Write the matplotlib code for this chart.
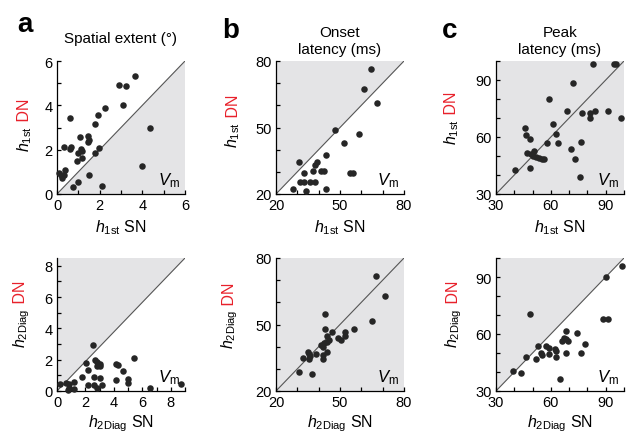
import matplotlib
matplotlib.use("Agg")
import matplotlib.pyplot as plt
import numpy as np

plt.rcParams["font.family"] = ["Liberation Sans", "DejaVu Sans"]
plt.rcParams["mathtext.fontset"] = "custom"
plt.rcParams["mathtext.rm"] = "Liberation Sans"
plt.rcParams["mathtext.it"] = "Liberation Sans:italic"

RED = "#e8202a"
FILL = "#e4e4e6"
DOT = "#262626"

# --- data: (SN, DN) pairs ---
a1_sn = [3.66, 2.92, 3.22, 3.09, 2.27, 1.94, 1.78, 0.59, 1.06, 1.47, 1.48, 1.45, 1.14,
         1.19, 0.66, 0.62, 0.33, 1.00, 1.17, 0.92, 1.97, 1.77, 0.39, 0.08, 0.19, 0.31,
         0.23, 1.52, 0.98, 0.73, 2.09, 3.97, 4.34]
a1_dn = [5.31, 4.90, 4.85, 4.01, 3.89, 3.58, 3.14, 3.45, 2.59, 2.60, 2.45, 2.33, 2.04,
         1.96, 2.11, 2.02, 2.14, 1.84, 1.64, 1.50, 2.07, 1.84, 1.10, 0.95, 0.84, 0.84,
         0.73, 0.87, 0.54, 0.31, 0.38, 1.27, 2.99]

b1_sn = [64.5, 61.1, 67.4, 47.5, 59.0, 51.7, 43.6, 30.9, 39.1, 38.5, 37.3, 32.9, 41.3,
         42.7, 54.8, 55.9, 31.4, 33.2, 36.0, 38.4, 27.8, 34.0, 43.5]
b1_dn = [76.4, 67.5, 61.2, 49.0, 46.9, 42.8, 37.8, 34.6, 34.6, 33.0, 30.4, 29.6, 30.4,
         30.4, 29.6, 29.6, 25.5, 25.5, 25.5, 25.5, 22.2, 21.2, 22.2]

c1_sn = [83.0, 94.6, 95.5, 72.1, 58.9, 69.1, 77.2, 81.2, 84.2, 91.3, 81.4, 98.5, 60.9,
         45.6, 46.6, 48.4, 62.9, 63.8, 57.7, 76.3, 71.0, 47.2, 49.3, 50.8, 50.3, 51.7,
         53.5, 55.3, 56.0, 73.0, 48.8, 40.3, 76.1]
c1_dn = [98.5, 98.5, 98.5, 88.3, 80.2, 73.8, 72.8, 72.8, 73.8, 73.8, 69.9, 69.9, 66.8,
         64.9, 60.8, 58.7, 61.7, 56.8, 56.8, 57.6, 53.6, 51.7, 51.1, 52.4, 50.2, 49.7,
         49.2, 48.5, 48.5, 48.5, 43.6, 42.5, 39.2]

a2_sn = [2.54, 5.38, 2.03, 2.68, 2.80, 3.03, 3.03, 2.80, 2.17, 4.17, 4.31, 4.64, 1.79,
         2.63, 3.03, 4.96, 4.96, 4.17, 1.19, 0.19, 0.61, 0.84, 2.17, 2.63, 3.17, 0.84,
         1.19, 0.77, 2.80, 6.53, 8.72]
a2_dn = [2.97, 2.10, 1.78, 2.00, 1.85, 1.74, 1.61, 1.61, 1.32, 1.74, 1.63, 1.30, 0.89,
         0.89, 0.85, 0.79, 0.53, 0.68, 0.57, 0.42, 0.51, 0.42, 0.36, 0.36, 0.36, 0.19,
         0.15, 0.06, 0.19, 0.21, 0.42]

b2_sn = [66.8, 71.0, 43.0, 64.8, 43.0, 46.1, 56.5, 52.3, 52.3, 49.2, 50.5, 44.1, 45.0,
         43.8, 42.7, 41.2, 41.8, 43.8, 42.0, 38.8, 34.8, 35.7, 36.0, 35.7, 32.6, 42.1,
         30.6, 36.8]
b2_dn = [71.9, 62.8, 54.7, 51.8, 47.8, 46.5, 47.8, 46.5, 44.7, 43.8, 42.8, 44.9, 43.1,
         42.1, 41.5, 40.7, 39.9, 37.6, 36.2, 36.9, 37.6, 36.9, 35.7, 34.6, 34.7, 34.6,
         28.5, 27.5]

c2_sn = [98.8, 89.9, 88.6, 91.0, 48.8, 68.1, 74.3, 78.4, 67.4, 68.5, 65.9, 69.2, 57.2,
         59.2, 62.1, 52.8, 63.0, 54.5, 55.0, 59.2, 68.1, 76.4, 63.0, 46.6, 51.7, 39.5,
         43.5, 65.0]
c2_dn = [95.9, 90.0, 67.9, 67.9, 70.7, 61.6, 60.6, 54.7, 58.0, 57.4, 56.2, 56.2, 53.6,
         52.6, 51.9, 53.6, 51.0, 50.1, 49.2, 49.6, 49.8, 49.8, 47.7, 47.8, 46.8, 40.5,
         39.6, 36.5]

titles = ["Spatial extent (°)", "Onset\nlatency (ms)", "Peak\nlatency (ms)"]
letters = ["a", "b", "c"]

fig = plt.figure(figsize=(6.29, 4.39), dpi=100)
W, H = 128 / 629, 133 / 439
lefts = [57 / 629, 276 / 629, 496 / 629]
bottoms = [1 - 195 / 439, 1 - 392 / 439]

panels = [
    # row, col, x, y, lims (x0, x1, y0, y1), step, labels, fill, sub, label x, junction
    (0, 0, a1_sn, a1_dn, (0, 6, 0, 6), 1, [0, 2, 4, 6], [0, 2, 4, 6], "below", "1st", -0.215, 0.52),
    (0, 1, b1_sn, b1_dn, (20, 80, 20, 80), 10, [20, 50, 80], [20, 50, 80], "above", "1st", -0.30, 0.55),
    (0, 2, c1_sn, c1_dn, (30, 100, 30, 100), 10, [30, 60, 90], [30, 60, 90], "all", "1st", -0.31, 0.57),
    (1, 0, a2_sn, a2_dn, (0, 9, 0, 8.5), 1, [0, 2, 4, 6, 8], [0, 2, 4, 6, 8], "above", "2Diag", -0.25, 0.63),
    (1, 1, b2_sn, b2_dn, (20, 80, 20, 80), 10, [20, 50, 80], [20, 50, 80], "all", "2Diag", -0.33, 0.62),
    (1, 2, c2_sn, c2_dn, (30, 100, 30, 100), 10, [30, 60, 90], [30, 60, 90], "above", "2Diag", -0.30, 0.63),
]

for row, col, xs, ys, lims, step, xl, yl, fill, sub, lx, junc in panels:
    ax = fig.add_axes([lefts[col], bottoms[row], W, H])
    x0, x1, y0, y1 = lims
    ax.set_xlim(x0, x1)
    ax.set_ylim(y0, y1)
    ax.set_facecolor("white")

    # shaded region and unity line
    if fill == "all":
        ax.set_facecolor(FILL)
    elif fill == "above":
        ax.fill([x0, x0, x1], [y0, y1, y1], color=FILL, lw=0, zorder=0)
    else:
        ax.fill([x0, x1, x1], [y0, y0, y1], color=FILL, lw=0, zorder=0)
    ax.plot([x0, x1], [y0, y1], color="#555555", lw=0.8, zorder=1)

    ax.scatter(xs, ys, s=22, color=DOT, lw=0, zorder=3, clip_on=False)

    for s in ["top", "right"]:
        ax.spines[s].set_visible(False)
    for s in ["left", "bottom"]:
        ax.spines[s].set_linewidth(0.9)

    ax.set_xticks(np.arange(x0, x1 + 0.01, step), minor=True)
    ax.set_yticks(np.arange(y0, y1 + 0.01, step), minor=True)
    ax.set_xticks(xl)
    ax.set_yticks(yl)
    ax.tick_params(which="both", direction="in", length=3, width=0.9,
                   labelsize=10.5, pad=3)

    ax.set_xlabel(r"$h_{\rm %s}$ SN" % sub, fontsize=11.5,
                  labelpad=4 if row == 0 else 2)
    ax.text(lx, junc, r"$h_{\rm %s}$" % sub, rotation=90, rotation_mode="anchor",
            ha="right", va="baseline", fontsize=11.5, transform=ax.transAxes)
    ax.text(lx, junc, " DN", rotation=90, rotation_mode="anchor", color=RED,
            ha="left", va="baseline", fontsize=11.5, transform=ax.transAxes)
    ax.text(0.96, 0.04, r"$V_{\rm m}$", ha="right", va="bottom", fontsize=12,
            transform=ax.transAxes)

    if row == 0:
        pad = 14 if col == 0 else 6
        ax.set_title(titles[col], fontsize=11, pad=pad, linespacing=1.25)
        ax.text(-0.31 if col == 0 else -0.42, 1.23 if col else 1.28, letters[col],
                fontsize=20, fontweight="bold", transform=ax.transAxes,
                ha="left", va="center")

fig.savefig("out.png", dpi=100)
